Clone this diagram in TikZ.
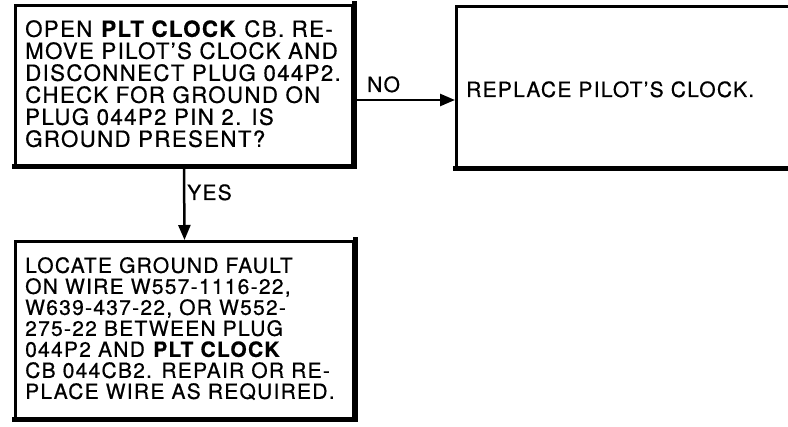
\documentclass[tikz,border=0pt]{standalone}
\usepackage{fontspec}
\setmainfont{TeX Gyre Heros}[LetterSpace=6, FakeBold=0.6]
\usetikzlibrary{arrows.meta}
\begin{document}
\begin{tikzpicture}[x=1pt,y=-1pt,
  box/.style={draw, line width=3pt, anchor=north west, inner sep=0pt},
  txt/.style={anchor=north west, inner sep=0pt, align=left},
  bigfont/.style={font=\fontsize{22.3}{22}\selectfont},
  smallfont/.style={font=\fontsize{21}{21}\selectfont},
  lbl/.style={anchor=base west, inner sep=0pt, font=\fontsize{21}{21}\selectfont},
  arr/.style={line width=2.5pt, -{Triangle[length=15pt,width=12pt]}},
  heavy/.style={line width=5pt, line cap=rect}]
\useasboundingbox (0,0) rectangle (788,427);
% boxes
\node[box, minimum width=337pt, minimum height=160pt] (q) at (14,4) {};
\node[box, minimum width=345pt, minimum height=161pt] (r) at (455,5) {};
\node[box, minimum width=338pt, minimum height=177pt] (l) at (14,240) {};
\draw[heavy] (q.south west) -- (q.south east) -- (q.north east);
\draw[heavy] (r.south west) -- (r.south east);
\draw[heavy] (l.south west) -- (l.south east) -- (l.north east);
% texts
\node[txt, bigfont] (qt) at (25,20) {OPEN \textbf{PLT CLOCK} CB. RE-\\
MOVE PILOT’S CLOCK AND\\
DISCONNECT PLUG 044P2.\\
CHECK FOR GROUND ON\\
PLUG 044P2 PIN 2. IS\\
GROUND PRESENT?};
\node[lbl] (rt) at (466,97) {REPLACE PILOT’S CLOCK.};
\node[txt, smallfont] (lt) at (25,257) {LOCATE GROUND FAULT\\
ON WIRE W557-1116-22,\\
W639-437-22, OR W552-\\
275-22 BETWEEN PLUG\\
044P2 AND \textbf{PLT CLOCK}\\
CB 044CB2. REPAIR OR RE-\\
PLACE WIRE AS REQUIRED.};
% connectors
\draw[arr] (q.east |- 0,100) -- (r.west |- 0,100);
\draw[arr] (q.south) -- (l.north);
\node[lbl] (no) at (367,92) {NO};
\node[lbl] (yes) at (187,200) {YES};
\end{tikzpicture}
\end{document}
